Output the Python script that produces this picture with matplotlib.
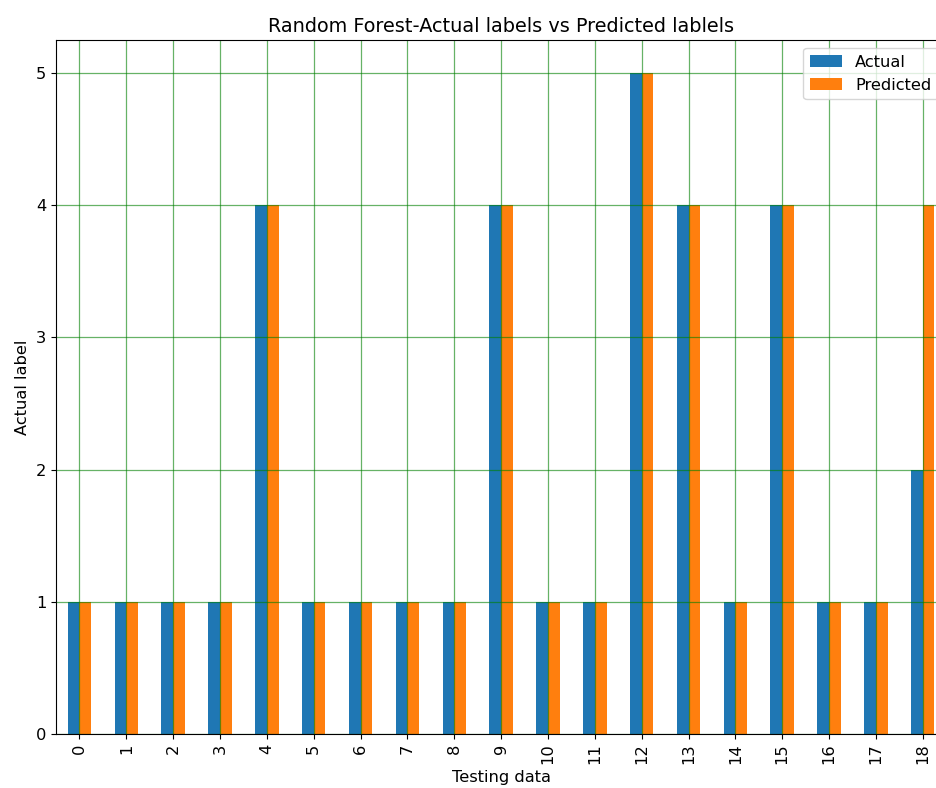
import numpy as np
import matplotlib
matplotlib.use('Agg')
import matplotlib.pyplot as plt

# 测试样本编号与标签
samples = list(range(19))
actual = [1, 1, 1, 1, 4, 1, 1, 1, 1, 4, 1, 1, 5, 4, 1, 4, 1, 1, 2]
predicted = [1, 1, 1, 1, 4, 1, 1, 1, 1, 4, 1, 1, 5, 4, 1, 4, 1, 1, 4]

fig = plt.figure(figsize=(9.37, 7.88), dpi=100)
# 原图右侧被裁掉一部分，坐标轴伸出画布
ax = fig.add_axes([0.0598, 0.0685, 0.950, 0.8807])

x = np.arange(len(samples))
w = 0.25
ax.bar(x - w / 2, actual, w, color='#1f77b4', label='Actual')
ax.bar(x + w / 2, predicted, w, color='#ff7f0e', label='Predicted')

ax.set_xlim(-0.5, len(samples) - 0.5)
ax.set_ylim(0, 5.25)
ax.set_xticks(x)
ax.set_xticklabels([str(s) for s in samples], rotation=90, fontsize=11.7)
ax.tick_params(axis='y', labelsize=11.7)

ax.grid(True, color='green', alpha=0.6, linewidth=0.9)

ax.set_title('Random Forest-Actual labels vs Predicted lablels', fontsize=13.9)
ax.set_xlabel('Testing data', fontsize=11.7)
ax.set_ylabel('Actual label', fontsize=11.7)
ax.legend(loc='upper right', fontsize=11.7)

fig.savefig('out.png', dpi=100)
